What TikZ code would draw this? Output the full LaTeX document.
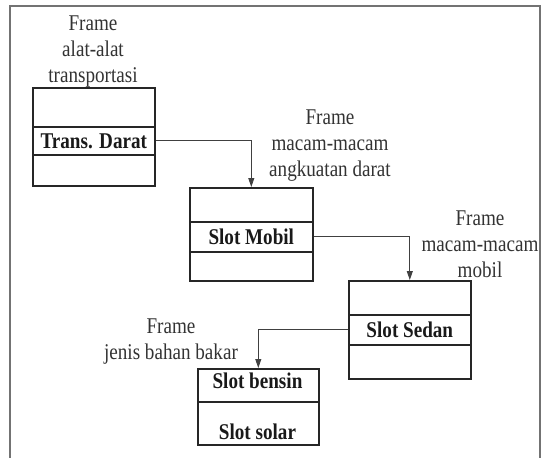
\documentclass[tikz,border=0pt]{standalone}
\usepackage{fontspec}
\setmainfont[FakeStretch=0.85]{Liberation Serif}
\usetikzlibrary{arrows.meta}
\begin{document}
\begin{tikzpicture}[x=1pt,y=-1pt,
  cell/.style={draw=black!85, line width=1.6pt, inner sep=0pt,
    anchor=north west, font=\fontsize{22.5}{26}\selectfont\bfseries, text=black!90},
  note/.style={align=center, inner sep=0pt, text=black!80,
    font=\fontsize{22.5}{26}\selectfont},
  conn/.style={draw=black!75, line width=0.9pt,
    -{Triangle[length=9pt,width=6pt]}},
  frameline/.style={draw=black!55, line width=1.5pt}]
\useasboundingbox (0,0) rectangle (542,458);

% outer frame
\draw[frameline] (10,465) -- (10,6) -- (540,6) -- (540,465);

% frame: alat-alat transportasi
\node[cell, minimum width=122pt, minimum height=39pt] (t1) at (32,87) {};
\node[cell, minimum width=122pt, minimum height=28pt] (t2) at (32,126) {Trans. Darat};
\node[cell, minimum width=122pt, minimum height=31pt] (t3) at (32,154) {};
\node[note] (lt) at (93,52) {Frame\\alat-alat\\transportasi};

% frame: macam-macam angkutan darat
\node[cell, minimum width=123pt, minimum height=34pt] (m1) at (189,187) {};
\node[cell, minimum width=123pt, minimum height=30pt] (m2) at (189,221) {Slot Mobil};
\node[cell, minimum width=123pt, minimum height=29pt] (m3) at (189,251) {};
\node[note] (lm) at (330,146) {Frame\\macam-macam\\angkuatan darat};

% frame: macam-macam mobil
\node[cell, minimum width=122pt, minimum height=34pt] (s1) at (348,280) {};
\node[cell, minimum width=122pt, minimum height=30pt] (s2) at (348,314) {Slot Sedan};
\node[cell, minimum width=122pt, minimum height=34pt] (s3) at (348,344) {};
\node[note] (ls) at (480,244) {Frame\\macam-macam\\mobil};

% frame: jenis bahan bakar
\node[cell, minimum width=121pt, minimum height=33pt] (f1) at (197,368) {};
\node[cell, minimum width=121pt, minimum height=43pt] (f2) at (197,401) {};
\node[font=\fontsize{22.5}{26}\selectfont\bfseries, text=black!90, inner sep=0pt]
  (fb) at (257.5,381) {Slot bensin};
\node[font=\fontsize{22.5}{26}\selectfont\bfseries, text=black!90, inner sep=0pt]
  (fs) at (257.5,432) {Slot solar};
\node[note] (lf) at (171,342) {Frame\\jenis bahan bakar};

% slot links
\draw[conn] (t2.east) -| (m1.north);
\draw[conn] (m2.east) -| (s1.north);
\draw[conn] (s2.west) -| (f1.north);
\end{tikzpicture}
\end{document}
